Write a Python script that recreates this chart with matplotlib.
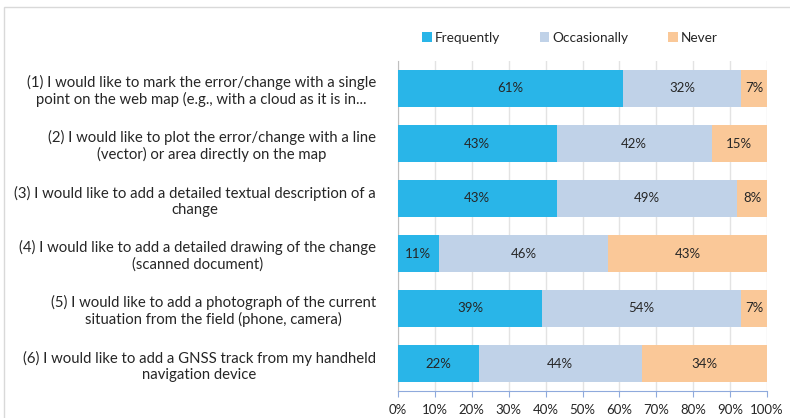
"""
Stacked horizontal bar chart — preferred ways of reporting map changes
"""
import matplotlib
matplotlib.use("Agg")
import matplotlib.pyplot as plt
import matplotlib.patches as mpatches
import numpy as np

# colours
BLUE = "#29B5E8"
GREY_BLUE = "#C0D2E8"
PEACH = "#FAC898"
TEXT = "#262626"
GRID = "#E3E3E3"
AXIS_BLUE = "#8FAADC"

plt.rcParams["font.family"] = ["Lato", "DejaVu Sans"]

categories = [
    "(1) I would like to mark the error/change with a single\npoint on the web map (e.g., with a cloud as it is in...",
    "(2) I would like to plot the error/change with a line\n(vector) or area directly on the map",
    "(3) I would like to add a detailed textual description of a\nchange",
    "(4) I would like to add a detailed drawing of the change\n(scanned document)",
    "(5) I would like to add a photograph of the current\nsituation from the field (phone, camera)",
    "(6) I would like to add a GNSS track from my handheld\nnavigation device",
]
series_names = ["Frequently", "Occasionally", "Never"]
frequently = [61, 43, 43, 11, 39, 22]
occasionally = [32, 42, 49, 46, 54, 44]
never = [7, 15, 8, 43, 7, 34]
x_ticks = [0, 10, 20, 30, 40, 50, 60, 70, 80, 90, 100]

fig = plt.figure(figsize=(7.9, 4.18), dpi=100, facecolor="white")
W, H = 790, 418
ax = fig.add_axes([398 / W, 1 - 391 / H, (767 - 398) / W, (391 - 61) / H])

# chart frame (only top/left edges are inside the image)
fig.patches.append(mpatches.Rectangle((4 / W, -0.1), 1.2, 1 - 7 / H + 0.1,
                                      transform=fig.transFigure, fill=False,
                                      edgecolor="#D9D9D9", linewidth=1))

y = np.arange(len(categories))
left = np.zeros(len(categories))
for name, vals, col in zip(series_names, [frequently, occasionally, never],
                           [BLUE, GREY_BLUE, PEACH]):
    bars = ax.barh(y, vals, left=left, height=0.667, color=col, label=name,
                   zorder=3)
    for b, v in zip(bars, vals):
        ax.text(b.get_x() + b.get_width() / 2, b.get_y() + b.get_height() / 2,
                f"{v}%", ha="center", va="center", fontsize=9.5, color=TEXT,
                zorder=4)
    left += np.array(vals)

ax.set_ylim(len(categories) - 0.5, -0.5)
ax.set_xlim(0, 100)
ax.set_yticks(y)
ax.set_yticklabels(categories, fontsize=10.7, color=TEXT, multialignment="center")
ax.tick_params(axis="y", length=0, pad=16)
ax.set_xticks(x_ticks)
ax.set_xticklabels([f"{t}%" for t in x_ticks], fontsize=9.5, color=TEXT)
ax.tick_params(axis="x", direction="out", length=4, color=AXIS_BLUE, pad=5)

ax.grid(axis="x", color=GRID, linewidth=1, zorder=0)
ax.spines["top"].set_visible(False)
ax.spines["right"].set_visible(False)
ax.spines["left"].set_color("#BFBFBF")
ax.spines["bottom"].set_color(AXIS_BLUE)

ax.legend(loc="center", bbox_to_anchor=(570 / W, 1 - 38 / H),
          bbox_transform=fig.transFigure, ncol=3, frameon=False, fontsize=9.8,
          handlelength=0.7, handleheight=0.7, handletextpad=0.25,
          columnspacing=2.9, labelcolor=TEXT)

fig.savefig("out.png", dpi=100, facecolor="white")
